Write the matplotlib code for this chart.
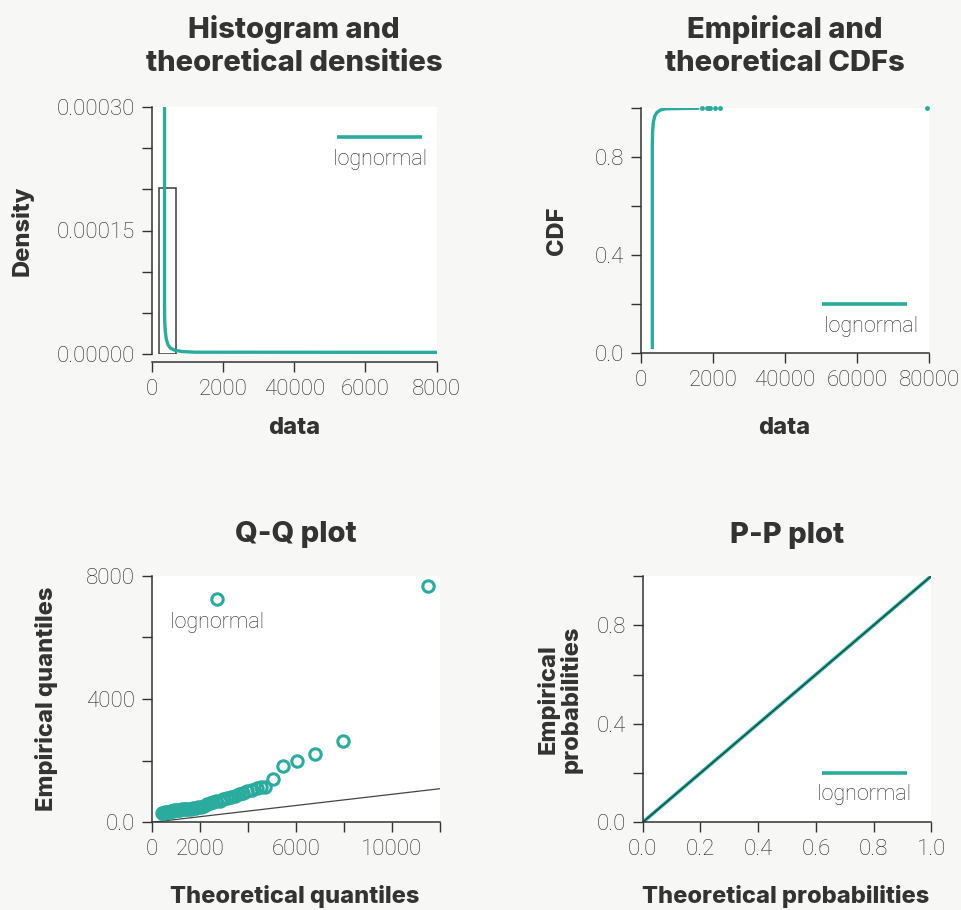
import matplotlib
matplotlib.use("Agg")
import matplotlib.pyplot as plt

TEAL = "#2aab9d"
INK = "#333333"
BG = "#f7f7f5"
BOLD = ["Inter", "DejaVu Sans"]

plt.rcParams["font.family"] = ["Roboto", "DejaVu Sans"]
plt.rcParams["font.weight"] = "light"

# histogram + fitted density
hist_left = [2130]
hist_width = [4600]
hist_height = [0.000202]
dens_x = [3600, 3600, 3650, 3800, 4100, 4600, 5300, 6500, 8500, 12000, 80000]
dens_y = [0.00035, 0.00006, 0.00004, 0.000028, 0.000018, 0.000011,
          0.000007, 0.0000045, 0.000003, 0.0000022, 0.000002]
dens_xticklabels = ["0", "2000", "40000", "6000", "8000"]

# empirical / theoretical CDF
cdf_x = [3220, 3220, 3300, 3500, 3900, 4500, 5500, 7000, 15800]
cdf_y = [0.024, 0.85, 0.90, 0.94, 0.965, 0.98, 0.99, 0.995, 0.997]
ecdf_x = [17100, 18400, 18900, 19200, 20500, 21900, 79450]
ecdf_y = [0.997, 0.997, 0.997, 0.997, 0.997, 0.997, 0.997]
cdf_xticklabels = ["0", "2000", "40000", "60000", "80000"]

# Q-Q
qq_theo = [420, 470, 520, 570, 620, 680, 740, 800, 870, 940, 1010, 1090,
           1170, 1250, 1340, 1430, 1520, 1620, 1720, 1830, 1940, 2050, 2170,
           2290, 2420, 2550, 2690, 2830, 2980, 3130, 3290, 3450, 3620, 3800,
           3960, 4180, 4370, 4560, 4720, 5060, 5480, 6040, 6810, 7950, 11490]
qq_emp = [290, 300, 310, 318, 326, 334, 345, 358, 372, 385, 395, 402,
          410, 416, 420, 424, 432, 442, 455, 472, 492, 512, 545,
          580, 612, 645, 675, 703, 740, 778, 820, 865, 915, 965,
          1015, 1060, 1100, 1130, 1158, 1400, 1840, 2000, 2230, 2650, 7680]
qq_ref_x = [0, 12000]
qq_ref_y = [0, 1090]

# P-P
pp_theo = [0.0, 1.0]
pp_emp = [0.0, 1.0]


def style_axes(ax):
    ax.set_facecolor("white")
    for s in ("top", "right"):
        ax.spines[s].set_visible(False)
    for s in ("left", "bottom"):
        ax.spines[s].set_color(INK)
        ax.spines[s].set_linewidth(1.1)
    ax.tick_params(colors=INK, labelcolor="#262626", labelsize=16,
                   length=7, width=1.0, pad=5)


def legend_line(ax, x0, x1, y, ty, tx):
    ax.plot([x0, x1], [y, y], color=TEAL, lw=2.6, transform=ax.transAxes,
            clip_on=False, solid_capstyle="butt")
    ax.text(tx, ty, "lognormal", transform=ax.transAxes, ha="center",
            va="center", fontsize=15.5, color="#262626")


def titles(ax, title, xlabel, ylabel, pad, lx, ly, yx):
    ax.set_title(title, fontsize=21, fontweight="heavy", color=INK, pad=pad,
                 family=BOLD, linespacing=1.3)
    ax.set_xlabel(xlabel, fontsize=17, fontweight="heavy", color=INK,
                  family=BOLD, va="center")
    ax.set_ylabel(ylabel, fontsize=17, fontweight="heavy", color=INK,
                  family=BOLD, va="center", ha="center", linespacing=1.0)
    ax.xaxis.set_label_coords(lx, ly)
    ax.yaxis.set_label_coords(yx, 0.5)


fig = plt.figure(figsize=(9.62, 9.10), dpi=100, facecolor=BG)
W, H = 962, 910


def add_ax(left, top, right, bottom):
    return fig.add_axes([left / W, 1 - bottom / H, (right - left) / W,
                         (bottom - top) / H])


# top left: density
ax1 = add_ax(151.7, 107, 436.7, 354)
style_axes(ax1)
ax1.bar(hist_left, hist_height, width=hist_width, align="edge",
        facecolor="none", edgecolor="#4a4a4a", linewidth=1.2, zorder=2)
ax1.plot(dens_x, dens_y, color=TEAL, lw=2.4, zorder=3)
ax1.set_xlim(0, 80000)
ax1.set_ylim(0, 0.0003)
ax1.spines["bottom"].set_position(("outward", 6))
ax1.set_xticks([0, 20000, 40000, 60000, 80000], dens_xticklabels)
ax1.set_yticks([i * 0.00005 for i in range(7)],
               ["0.00000", "", "", "0.00015", "", "", "0.00030"])
legend_line(ax1, 0.649, 0.947, 0.88, 0.788, 0.801)
titles(ax1, "Histogram and\ntheoretical densities", "data", "Density",
       26, 0.5, -0.30, -0.453)

# top right: CDF
ax2 = add_ax(640.7, 107.5, 929.3, 353.3)
style_axes(ax2)
ax2.plot(cdf_x, cdf_y, color=TEAL, lw=2.4, zorder=3)
ax2.plot(ecdf_x, ecdf_y, "o", color=TEAL, ms=3.5, mew=0, zorder=3,
         clip_on=False)
ax2.set_xlim(0, 80000)
ax2.set_ylim(0, 1)
ax2.set_xticks([0, 20000, 40000, 60000, 80000], cdf_xticklabels)
ax2.set_yticks([0, 0.2, 0.4, 0.6, 0.8, 1.0],
               ["0.0", "", "0.4", "", "0.8", ""])
legend_line(ax2, 0.629, 0.922, 0.202, 0.111, 0.798)
titles(ax2, "Empirical and\ntheoretical CDFs", "data", "CDF",
       26, 0.497, -0.304, -0.291)

# bottom left: Q-Q
ax3 = add_ax(151.7, 575.7, 440, 822.3)
style_axes(ax3)
ax3.plot(qq_ref_x, qq_ref_y, color="#444444", lw=0.9, zorder=2)
ax3.plot(qq_theo, qq_emp, "o", mfc="none", mec=TEAL, ms=8.2, mew=2.2,
         zorder=3, clip_on=False)
ax3.plot([0.2265], [0.9035], "o", mfc="none", mec=TEAL, ms=8.2, mew=2.2,
         transform=ax3.transAxes)
ax3.text(0.2265, 0.812, "lognormal", transform=ax3.transAxes, ha="center",
         va="center", fontsize=15.5, color="#262626")
ax3.set_xlim(0, 12000)
ax3.set_ylim(0, 8000)
ax3.set_xticks(list(range(0, 12001, 2000)),
               ["0", "2000", "", "6000", "", "10000", ""])
ax3.set_yticks([0, 2000, 4000, 6000, 8000],
               ["0.0", "", "4000", "", "8000"])
titles(ax3, "Q-Q plot", "Theoretical quantiles", "Empirical quantiles",
       24, 0.497, -0.302, -0.364)

# bottom right: P-P
ax4 = add_ax(642.7, 576, 931.3, 822.3)
style_axes(ax4)
ax4.plot(pp_theo, pp_emp, color=TEAL, lw=2.6, zorder=2)
ax4.plot(pp_theo, pp_emp, color="#1a3a36", lw=0.8, zorder=3)
ax4.set_xlim(0, 1)
ax4.set_ylim(0, 1)
ax4.set_xticks([0, 0.2, 0.4, 0.6, 0.8, 1.0],
               ["0.0", "0.2", "0.4", "0.6", "0.8", "1.0"])
ax4.set_yticks([0, 0.2, 0.4, 0.6, 0.8, 1.0],
               ["0.0", "", "0.4", "", "0.8", ""])
legend_line(ax4, 0.621, 0.915, 0.201, 0.111, 0.768)
titles(ax4, "P-P plot", "Theoretical probabilities",
       "Empirical\nprobabilities", 24, 0.497, -0.303, -0.287)

fig.savefig("out.png", dpi=100, facecolor=BG)
